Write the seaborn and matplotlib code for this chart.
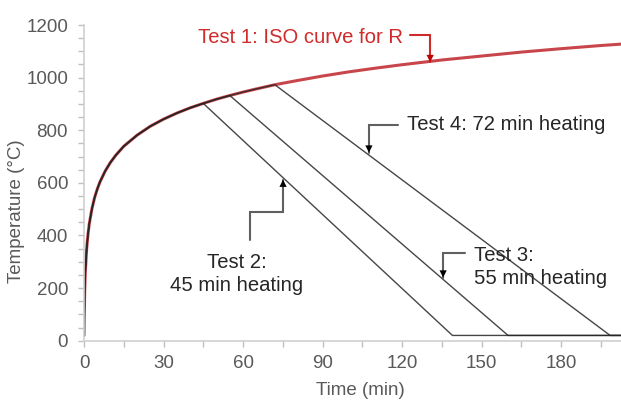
import matplotlib
matplotlib.use("Agg")
import matplotlib.pyplot as plt
from matplotlib.ticker import MultipleLocator
import pandas as pd
import seaborn as sns

# Standard fire curve (Test 1): time in minutes, gas temperature in °C
iso_time = [0, 0.25, 0.5, 1, 1.5, 2, 3, 4, 5, 6, 8, 10, 12, 15, 20, 25, 30, 35,
            40, 45, 50, 55, 60, 65, 72, 80, 90, 100, 110, 120, 135, 150, 165,
            180, 195, 205]
iso_temp = [20, 185, 261, 349, 404, 445, 502, 544, 576, 603, 645, 678, 705, 739,
            781, 815, 842, 865, 885, 902, 918, 932, 945, 957, 973, 988, 1006,
            1022, 1036, 1049, 1067, 1082, 1097, 1110, 1122, 1129]

# Tests 2-4: heating along the standard curve, then linear cooling to ambient
test_names = ["Test 2", "Test 3", "Test 4"]
heating_end = [45, 55, 72]          # min
cooling_end = [139, 160, 198.5]     # min
ambient = 20                        # °C
time_end = 205                      # min

x_ticks = [0, 30, 60, 90, 120, 150, 180]
y_ticks = [0, 200, 400, 600, 800, 1000, 1200]

GREY_TXT = "#595959"
RED_LINE = "#c8464b"
RED_TXT = "#d02b2b"
DARK = "#262626"

sns.set_style("ticks")
plt.rcParams["font.family"] = ["Liberation Sans", "DejaVu Sans"]
plt.rcParams["font.size"] = 13

iso_df = pd.DataFrame({"time": iso_time, "temp": iso_temp})

rows = []
for name, th, tc in zip(test_names, heating_end, cooling_end):
    for t, T in zip(iso_time, iso_temp):
        if t <= th:
            rows.append((name, t, T))
    rows.append((name, tc, ambient))
    rows.append((name, time_end, ambient))
tests_df = pd.DataFrame(rows, columns=["test", "time", "temp"])

fig = plt.figure(figsize=(6.21, 4.13), dpi=100)
ax = fig.add_axes([84 / 621, 72.3 / 413, 537 / 621, 315.7 / 413])

sns.lineplot(data=iso_df, x="time", y="temp", color=RED_LINE, linewidth=2.2,
             sort=False, estimator=None, ax=ax, legend=False)
sns.lineplot(data=tests_df, x="time", y="temp", units="test", color=DARK,
             linewidth=1.0, alpha=0.85, sort=False, estimator=None, ax=ax,
             legend=False)

ax.set_xlim(0, 202.6)
ax.set_ylim(0, 1200)
ax.set_xticks(x_ticks)
ax.set_yticks(y_ticks)
ax.xaxis.set_minor_locator(MultipleLocator(15))
ax.yaxis.set_minor_locator(MultipleLocator(50))

for side in ("top", "right"):
    ax.spines[side].set_visible(False)
for side in ("left", "bottom"):
    ax.spines[side].set_color("#d0d0d0")
    ax.spines[side].set_linewidth(1.2)

ax.tick_params(which="both", direction="out", length=4.5, width=1,
               color="#c0c0c0", labelcolor=GREY_TXT, labelsize=13.5)
ax.tick_params(axis="y", which="major", pad=7)
ax.tick_params(axis="x", which="major", pad=6)

ax.set_xlabel("Time (min)", color=GREY_TXT, fontsize=13.5)
ax.set_ylabel("Temperature (°C)", color=GREY_TXT, fontsize=13.5)
ax.xaxis.set_label_coords(0.514, -0.13)
ax.yaxis.set_label_coords(-0.11, 0.41)


def elbow(xs, ys, line_color, head_color):
    ax.plot(xs, ys, color=line_color, linewidth=1.5, solid_joinstyle="miter",
            clip_on=False)
    ax.annotate("", xy=(xs[-1], ys[-1]), xytext=(xs[-2], ys[-2]),
                arrowprops=dict(arrowstyle="-|>", color=head_color, lw=0,
                                mutation_scale=13, shrinkA=0, shrinkB=0))


LABEL_SIZE = 14.6

# Test 1 label
ax.text(81.5, 1154, "Test 1: ISO curve for R", color=RED_TXT,
        fontsize=LABEL_SIZE, ha="center", va="center")
elbow([123, 130.6, 130.6], [1161, 1161, 1059], RED_TXT, "#c00000")

# Test 4 label
ax.text(121.9, 820, "Test 4: 72 min heating", color=DARK, fontsize=LABEL_SIZE,
        ha="left", va="center")
elbow([118.5, 107.5, 107.5], [820, 820, 715], "#606060", "black")

# Test 2 label
ax.text(57.7, 253, "Test 2:\n45 min heating", color=DARK, fontsize=LABEL_SIZE,
        ha="center", va="center", multialignment="center", linespacing=1.25)
elbow([62.6, 62.6, 75.1, 75.1], [383, 489, 489, 612], "#606060", "black")

# Test 3 label
ax.text(147.3, 280, "Test 3:\n55 min heating", color=DARK, fontsize=LABEL_SIZE,
        ha="left", va="center", multialignment="left", linespacing=1.25)
elbow([143.8, 135.5, 135.5], [333, 333, 240], "#606060", "black")

fig.savefig("out.png", dpi=100)
